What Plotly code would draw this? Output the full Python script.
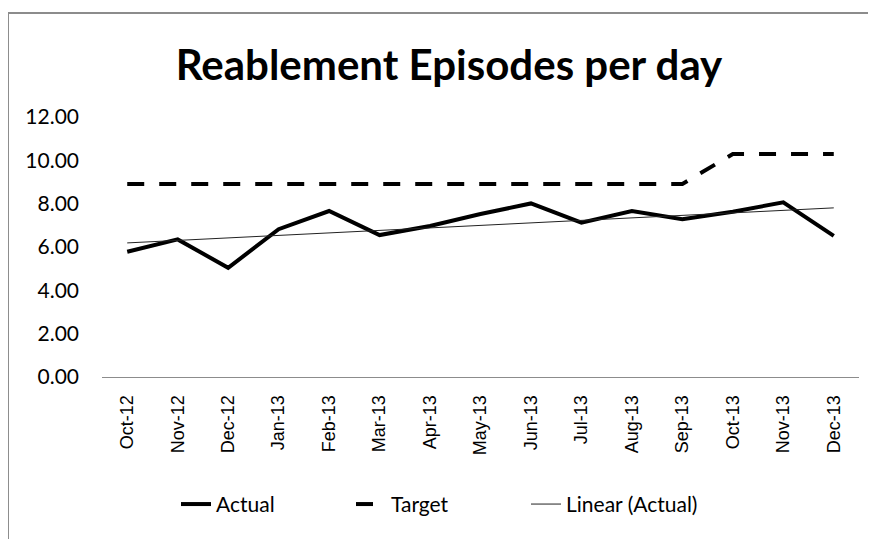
import numpy as np
import plotly.graph_objects as go

months = ["Oct-12", "Nov-12", "Dec-12", "Jan-13", "Feb-13", "Mar-13", "Apr-13", "May-13",
          "Jun-13", "Jul-13", "Aug-13", "Sep-13", "Oct-13", "Nov-13", "Dec-13"]
actual = [5.78, 6.35, 5.04, 6.82, 7.66, 6.55, 6.97, 7.52, 8.01, 7.12, 7.66, 7.28, 7.63, 8.06, 6.51]
target = [8.91, 8.91, 8.91, 8.91, 8.91, 8.91, 8.91, 8.91, 8.91, 8.91, 8.91, 8.91, 10.29, 10.29, 10.29]

# linear trendline of Actual, as Excel does
idx = np.arange(len(actual))
slope, intercept = np.polyfit(idx, actual, 1)
trend = slope * idx + intercept

fig = go.Figure()
fig.add_trace(go.Scatter(x=months, y=actual, name="Actual", mode="lines",
                         line=dict(color="black", width=4)))
fig.add_trace(go.Scatter(x=months, y=target, name="Target", mode="lines",
                         line=dict(color="black", width=4, dash="17px,15px")))
fig.add_trace(go.Scatter(x=months, y=trend, name="Linear (Actual)", mode="lines",
                         line=dict(color="#222222", width=1)))

# page body has an 8px margin, so everything is laid out 8px up/left
fig.update_layout(
    width=876, height=539,
    margin=dict(l=94, r=25, t=109, b=170, autoexpand=False),
    plot_bgcolor="white", paper_bgcolor="white",
    title=dict(text="<b>Reablement Episodes per day</b>", x=441 / 876, xanchor="center",
               y=1 - 57 / 539, yanchor="middle",
               font=dict(family="Lato", size=42, color="black")),
    showlegend=True,
    legend=dict(orientation="h", x=(168 - 94) / 757, xanchor="left", y=-0.49, yanchor="middle",
                font=dict(family="Lato", size=21, color="black"),
                entrywidth=130, entrywidthmode="pixels"),
    shapes=[dict(type="rect", xref="paper", yref="paper", x0=-0.1242, x1=1.2,
                 y0=-0.8, y1=1.4, line=dict(color="#8c8c8c", width=2))],
)
fig.update_xaxes(type="category", range=[-0.5, len(months) - 0.5], showgrid=False,
                 showline=True, linecolor="#8c8c8c", automargin=False,
                 linewidth=1, tickangle=-90, ticks="", ticklabelstandoff=10,
                 tickfont=dict(family="Liberation Sans", size=18, color="black"))
fig.update_yaxes(range=[0, 12], dtick=2, tickformat=".2f", showgrid=False,
                 showline=False, zeroline=False, ticklabelstandoff=22, automargin=False,
                 tickfont=dict(family="Lato", size=21, color="black"))

fig.write_html("out.html")
